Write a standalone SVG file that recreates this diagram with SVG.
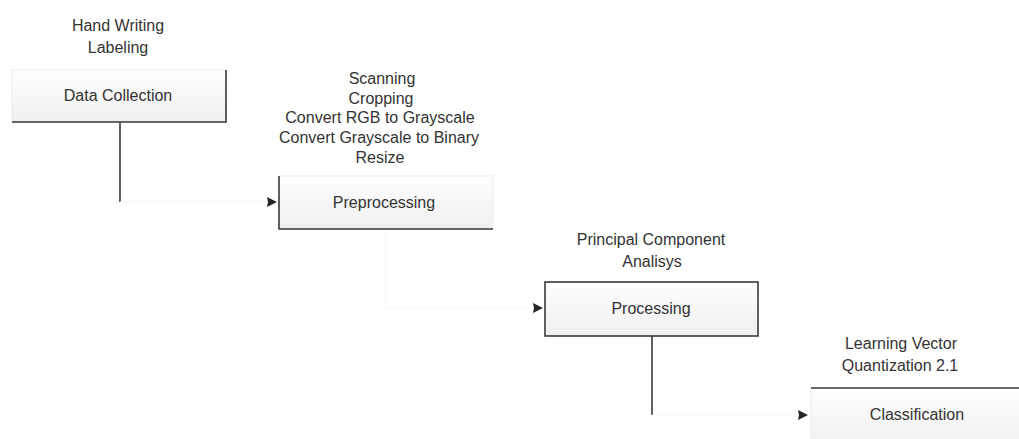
<svg xmlns="http://www.w3.org/2000/svg" width="1019" height="439" viewBox="0 0 1019 439">
  <style>
    .lbl { font-family: "Liberation Sans", Arial, sans-serif; font-size: 16px; fill: #333333; text-anchor: middle; }
    .box { fill: url(#boxfill); stroke: #ececec; stroke-width: 1; }
    .edge { fill: none; stroke: #3a3a3a; stroke-width: 1.6; }
    .faint { fill: none; stroke: #f8f8f8; stroke-width: 1.2; }
  </style>
  <defs>
    <linearGradient id="boxfill" x1="0" y1="0" x2="0" y2="1">
      <stop offset="0" stop-color="#ffffff"/>
      <stop offset="1" stop-color="#efefef"/>
    </linearGradient>
    <marker id="arrow" viewBox="0 0 10 10" refX="10" refY="5" markerWidth="11" markerHeight="10" markerUnits="userSpaceOnUse" orient="auto">
      <path d="M0,0 L10,5 L0,10 L1,5 Z" fill="#262626"/>
    </marker>
  </defs>
  <rect width="1019" height="439" fill="#ffffff"/>

  <g id="connectors">
    <path class="edge" d="M120,122 V202"/>
    <path class="faint" d="M120,202 H277" marker-end="url(#arrow)"/>
    <path class="faint" d="M386,229 V308 H543" marker-end="url(#arrow)"/>
    <path class="edge" d="M652,336 V415"/>
    <path class="faint" d="M652,415 H808" marker-end="url(#arrow)"/>
  </g>

  <g id="data-collection">
    <text class="lbl" x="118" y="31">Hand Writing</text>
    <text class="lbl" x="118" y="53">Labeling</text>
    <rect class="box" x="12" y="70" width="214" height="52"/>
    <path class="edge" d="M226,70 V122 H12"/>
    <text class="lbl" x="118" y="101">Data Collection</text>
  </g>

  <g id="preprocessing">
    <text class="lbl" x="382" y="84">Scanning</text>
    <text class="lbl" x="381" y="104">Cropping</text>
    <text class="lbl" x="380" y="123">Convert RGB to Grayscale</text>
    <text class="lbl" x="379" y="143">Convert Grayscale to Binary</text>
    <text class="lbl" x="380" y="163">Resize</text>
    <rect class="box" x="279" y="176" width="214" height="53"/>
    <path class="edge" d="M279,176 V229 H493"/>
    <text class="lbl" x="384" y="208">Preprocessing</text>
  </g>

  <g id="processing">
    <text class="lbl" x="651" y="245">Principal Component</text>
    <text class="lbl" x="652" y="267">Analisys</text>
    <rect class="box" x="545" y="282" width="213" height="54" style="stroke:#3a3a3a;stroke-width:1.6"/>
    <text class="lbl" x="651" y="314">Processing</text>
  </g>

  <g id="classification">
    <text class="lbl" x="901" y="349">Learning Vector</text>
    <text class="lbl" x="900" y="371">Quantization 2.1</text>
    <rect class="box" x="811" y="388" width="220" height="60"/>
    <path class="edge" d="M811,388 H1019"/>
    <text class="lbl" x="917" y="420">Classification</text>
  </g>
</svg>
